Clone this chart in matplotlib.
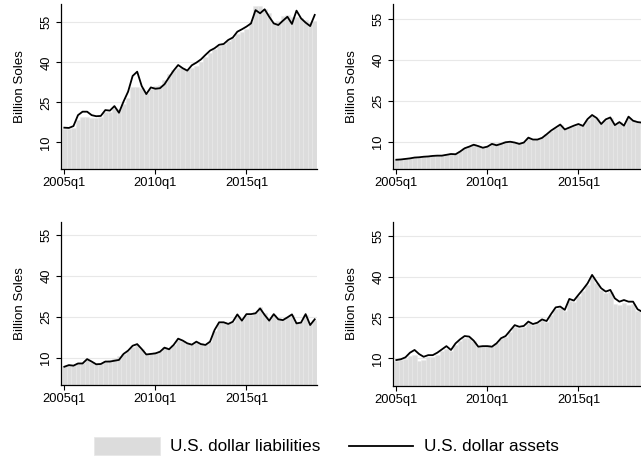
import matplotlib
matplotlib.use("Agg")
import matplotlib.pyplot as plt
from matplotlib.patches import Rectangle
from matplotlib.lines import Line2D
import numpy as np

plt.rcParams['font.family'] = ['Liberation Sans', 'DejaVu Sans']

# ---- data (billion soles, quarterly 2005q1 .. 2018q4) ----
quarters = [f"{y}q{q}" for y in range(2005, 2019) for q in range(1, 5)]
tick_labels = ["2005q1", "2010q1", "2015q1"]

p1_assets = [15.5, 15.4, 16.1, 20.2, 21.5, 21.5, 20.2, 19.8, 19.9, 22.1, 21.9, 23.6, 21.1, 25.3,
             29.0, 34.9, 36.5, 31.1, 28.1, 30.6, 30.1, 30.3, 31.8, 34.4, 36.9, 39.0, 37.8, 36.9,
             38.9, 39.9, 41.1, 42.8, 44.4, 45.3, 46.6, 46.9, 48.4, 49.3, 51.5, 52.4, 53.4, 54.6,
             59.6, 58.4, 59.9, 57.1, 54.6, 54.0, 55.6, 57.1, 54.4, 59.4, 56.5, 54.9, 53.6, 57.8]
p1_liab = [15.0, 15.0, 15.5, 18.5, 19.4, 19.4, 19.0, 19.2, 19.4, 21.5, 21.5, 23.0, 22.5, 24.5,
           26.5, 30.6, 30.6, 30.5, 28.5, 30.0, 31.0, 31.5, 33.5, 35.5, 37.0, 37.8, 37.8, 37.5,
           38.0, 38.5, 40.0, 42.0, 43.5, 45.0, 46.0, 47.0, 48.0, 49.0, 50.5, 51.5, 52.5, 55.0,
           61.0, 61.0, 59.9, 58.5, 55.0, 55.5, 57.5, 57.8, 57.0, 57.0, 56.5, 56.0, 55.0, 55.5]

p2_assets = [3.4, 3.5, 3.7, 3.9, 4.2, 4.3, 4.5, 4.6, 4.8, 4.9, 4.9, 5.2, 5.5, 5.4,
             6.4, 7.6, 8.2, 8.9, 8.4, 7.8, 8.2, 9.2, 8.7, 9.2, 9.8, 10.0, 9.7, 9.2,
             9.7, 11.5, 10.8, 10.8, 11.4, 12.7, 14.1, 15.2, 16.3, 14.5, 15.2, 15.9, 16.5, 15.8,
             18.3, 19.8, 18.7, 16.5, 18.2, 18.9, 16.1, 17.2, 15.9, 19.2, 17.7, 17.2, 17.0, 17.3]
p2_liab = [3.6, 3.7, 3.9, 4.1, 4.4, 4.5, 4.7, 4.8, 5.0, 5.1, 5.1, 5.4, 5.8, 5.7,
           6.6, 7.8, 8.4, 9.0, 8.6, 8.2, 8.6, 9.6, 9.4, 9.8, 10.2, 10.3, 10.0, 9.6,
           10.0, 11.3, 10.8, 10.9, 11.6, 12.8, 14.0, 15.0, 16.0, 14.8, 15.3, 15.8, 16.4, 16.0,
           18.0, 19.4, 18.8, 17.0, 18.0, 18.6, 16.6, 17.2, 16.3, 18.8, 17.8, 17.3, 17.1, 17.4]

p3_assets = [6.7, 7.3, 7.1, 7.9, 7.9, 9.5, 8.6, 7.6, 7.7, 8.6, 8.6, 8.9, 9.2, 11.4,
             12.6, 14.4, 15.0, 13.2, 11.2, 11.4, 11.6, 12.2, 13.7, 13.1, 14.7, 17.0, 16.3, 15.3,
             14.8, 15.9, 15.0, 14.7, 15.9, 20.2, 23.0, 23.0, 22.4, 23.2, 25.9, 23.6, 26.0, 26.0,
             26.3, 28.1, 25.7, 23.6, 26.0, 24.1, 23.8, 24.8, 25.9, 22.6, 22.9, 26.0, 22.0, 24.1]
p3_liab = [6.9, 7.4, 7.4, 8.0, 8.2, 9.0, 8.6, 8.0, 8.0, 8.8, 9.2, 10.0, 10.6, 11.2,
           12.4, 14.0, 14.6, 13.2, 11.5, 11.6, 12.0, 12.4, 13.8, 13.6, 14.8, 16.6, 16.2, 15.5,
           15.2, 15.8, 15.3, 15.0, 15.9, 19.8, 22.8, 23.0, 22.6, 23.0, 25.4, 23.8, 25.8, 25.8,
           26.8, 28.6, 26.5, 24.0, 25.8, 24.4, 24.2, 24.8, 25.6, 23.0, 23.2, 25.6, 22.4, 23.8]

p4_assets = [9.4, 9.7, 10.4, 12.1, 13.1, 11.6, 10.6, 11.2, 11.2, 12.1, 13.3, 14.5, 13.1, 15.5,
             17.0, 18.2, 18.0, 16.5, 14.3, 14.5, 14.5, 14.3, 15.5, 17.4, 18.2, 20.2, 22.2, 21.6,
             21.9, 23.5, 22.6, 23.1, 24.3, 23.7, 26.3, 28.7, 29.0, 27.8, 31.8, 31.2, 33.3, 35.3,
             37.5, 40.6, 38.1, 35.7, 34.5, 35.1, 32.0, 30.8, 31.4, 30.8, 30.8, 28.0, 27.1, 26.5]
p4_liab = [9.2, 9.4, 9.8, 11.0, 11.2, 9.2, 9.6, 10.4, 10.6, 11.4, 12.6, 13.6, 12.8, 15.0,
           16.4, 17.6, 17.6, 16.2, 14.2, 14.6, 14.8, 14.6, 15.6, 17.0, 17.8, 19.8, 21.6, 21.2,
           21.6, 23.0, 22.2, 22.8, 24.0, 23.4, 25.8, 28.0, 28.4, 27.4, 31.0, 30.6, 32.8, 34.8,
           37.0, 40.0, 37.6, 35.2, 34.0, 34.4, 30.0, 29.4, 30.4, 29.6, 29.8, 27.4, 26.6, 26.0]

series = [(p1_liab, p1_assets), (p2_liab, p2_assets), (p3_liab, p3_assets), (p4_liab, p4_assets)]

W, H = 641, 461
fig = plt.figure(figsize=(W / 100, H / 100), dpi=100)

# panel geometry in pixels: left, right, top, bottom, ymax
geoms = [
    (60.7, 317.0, 4.5, 169.0, 61.7),
    (392.7, 649.0, 4.0, 169.0, 60.5),
    (60.7, 317.0, 221.7, 385.0, 59.9),
    (392.7, 649.0, 221.7, 385.7, 60.1),
]

x = np.arange(len(quarters))
bar_color = '#dcdcdc'
for (liab, assets), (l, r, t, b, ymax) in zip(series, geoms):
    ax = fig.add_axes([l / W, 1 - b / H, (r - l) / W, (b - t) / H])
    ax.bar(x, liab, width=1.0, color=bar_color, edgecolor='#e9e9e9', linewidth=0.4, zorder=2)
    ax.plot(x, assets, color='black', linewidth=1.3, zorder=3)
    ax.set_xlim(-0.8, 55.5)
    ax.set_ylim(0, ymax)
    ax.set_yticks([10, 25, 40, 55])
    ax.set_yticklabels(['10', '25', '40', '55'], rotation=90, va='center')
    ax.set_xticks([quarters.index(s) for s in tick_labels])
    ax.set_xticklabels(tick_labels)
    ax.grid(axis='y', color='#e8e8e8', linewidth=0.8, zorder=1)
    ax.set_axisbelow(True)
    for s in ['top', 'right']:
        ax.spines[s].set_visible(False)
    for s in ['left', 'bottom']:
        ax.spines[s].set_linewidth(0.9)
    ax.tick_params(axis='both', direction='out', length=3.5, width=0.8, labelsize=9.3, pad=2.5)
    ax.set_ylabel('Billion Soles', fontsize=9.6, labelpad=10)

# legend
def fx(px):
    return px / W

def fy(py):
    return 1 - py / H

fig.patches.append(Rectangle((fx(94), fy(455)), fx(160) - fx(94), (455 - 437) / H,
                             transform=fig.transFigure, facecolor=bar_color, edgecolor='#e6e6e6',
                             linewidth=0.5))
fig.text(fx(170), fy(446), 'U.S. dollar liabilities', fontsize=12.3, va='center', ha='left')
fig.lines.append(Line2D([fx(349), fx(413)], [fy(446), fy(446)], transform=fig.transFigure,
                        color='black', linewidth=1.3))
fig.text(fx(424), fy(446), 'U.S. dollar assets', fontsize=12.3, va='center', ha='left')

fig.savefig('out.png', dpi=100)
